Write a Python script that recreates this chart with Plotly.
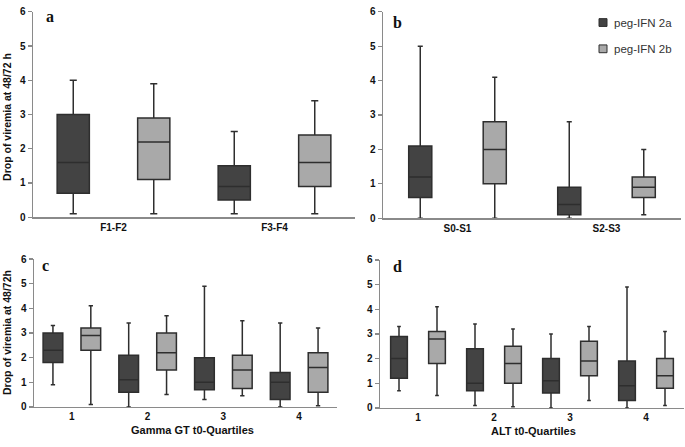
import plotly.graph_objects as go

W, H = 685, 447

# ---------------- data (five-number summaries) ----------------
series_names = ["peg-IFN 2a", "peg-IFN 2b"]

# panel a: fibrosis
a_cats = ["F1-F2", "F3-F4"]
a_2a_low = [0.1, 0.1]; a_2a_q1 = [0.7, 0.5]; a_2a_med = [1.6, 0.9]; a_2a_q3 = [3.0, 1.5]; a_2a_high = [4.0, 2.5]
a_2b_low = [0.1, 0.1]; a_2b_q1 = [1.1, 0.9]; a_2b_med = [2.2, 1.6]; a_2b_q3 = [2.9, 2.4]; a_2b_high = [3.9, 3.4]

# panel b: steatosis
b_cats = ["S0-S1", "S2-S3"]
b_2a_low = [0.0, 0.0]; b_2a_q1 = [0.6, 0.1]; b_2a_med = [1.2, 0.4]; b_2a_q3 = [2.1, 0.9]; b_2a_high = [5.0, 2.8]
b_2b_low = [0.0, 0.1]; b_2b_q1 = [1.0, 0.6]; b_2b_med = [2.0, 0.9]; b_2b_q3 = [2.8, 1.2]; b_2b_high = [4.1, 2.0]

# panel c: Gamma GT quartiles
c_cats = ["1", "2", "3", "4"]
c_2a_low = [0.9, 0.0, 0.3, 0.0]; c_2a_q1 = [1.8, 0.6, 0.7, 0.3]; c_2a_med = [2.3, 1.1, 1.0, 1.0]
c_2a_q3 = [3.0, 2.1, 2.0, 1.4]; c_2a_high = [3.3, 3.4, 4.9, 3.4]
c_2b_low = [0.1, 0.5, 0.45, 0.05]; c_2b_q1 = [2.3, 1.5, 0.75, 0.6]; c_2b_med = [2.9, 2.2, 1.5, 1.6]
c_2b_q3 = [3.2, 3.0, 2.1, 2.2]; c_2b_high = [4.1, 3.7, 3.5, 3.2]

# panel d: ALT quartiles
d_cats = ["1", "2", "3", "4"]
d_2a_low = [0.7, 0.1, 0.0, 0.0]; d_2a_q1 = [1.2, 0.7, 0.6, 0.3]; d_2a_med = [2.0, 1.0, 1.1, 0.9]
d_2a_q3 = [2.9, 2.4, 2.0, 1.9]; d_2a_high = [3.3, 3.4, 3.0, 4.9]
d_2b_low = [0.5, 0.05, 0.3, 0.1]; d_2b_q1 = [1.8, 1.0, 1.3, 0.8]; d_2b_med = [2.8, 1.8, 1.9, 1.3]
d_2b_q3 = [3.1, 2.5, 2.7, 2.0]; d_2b_high = [4.1, 3.2, 3.3, 3.1]

y_ticks = [0, 1, 2, 3, 4, 5, 6]

# ---------------- styling ----------------
fills = ["#434343", "#a9a9a9"]
edge = "#2e2e2e"
axis_col = "#8a8a8a"
TICK_FONT = dict(family="Liberation Sans, Arial", size=10, color="#111", weight="bold")
GROUP_OFFSET = [-0.25, 0.25]   # position of each series within a category slot


def px_x(p):
    return p / W


def px_y(p):
    return 1 - p / H


fig = go.Figure()

panels = [
    ("x", "y", a_cats, [(a_2a_low, a_2a_q1, a_2a_med, a_2a_q3, a_2a_high),
                       (a_2b_low, a_2b_q1, a_2b_med, a_2b_q3, a_2b_high)], 0.2),
    ("x2", "y2", b_cats, [(b_2a_low, b_2a_q1, b_2a_med, b_2a_q3, b_2a_high),
                         (b_2b_low, b_2b_q1, b_2b_med, b_2b_q3, b_2b_high)], 0.155),
    ("x3", "y3", c_cats, [(c_2a_low, c_2a_q1, c_2a_med, c_2a_q3, c_2a_high),
                         (c_2b_low, c_2b_q1, c_2b_med, c_2b_q3, c_2b_high)], 0.26),
    ("x4", "y4", d_cats, [(d_2a_low, d_2a_q1, d_2a_med, d_2a_q3, d_2a_high),
                         (d_2b_low, d_2b_q1, d_2b_med, d_2b_q3, d_2b_high)], 0.22),
]

for xa, ya, cats, stats, bw in panels:
    for k, (lo, q1, med, q3, hi) in enumerate(stats):
        pos = [i + GROUP_OFFSET[k] for i in range(len(cats))]
        fig.add_trace(go.Box(
            x=pos, lowerfence=lo, q1=q1, median=med, q3=q3, upperfence=hi,
            name=series_names[k], showlegend=False,
            fillcolor=fills[k], line=dict(color=edge, width=1.5),
            whiskerwidth=0.22, width=bw,
            xaxis=xa, yaxis=ya, hoverinfo="skip",
        ))

layout = dict(
    width=W, height=H, margin=dict(l=0, r=0, t=0, b=0),
    paper_bgcolor="white", plot_bgcolor="white",
    boxmode="overlay", showlegend=False,
)

x_domains = {"x": (33, 355), "x2": (383, 681), "x3": (34, 337), "x4": (380, 684)}
y_domains = {"y": (6, 217), "y2": (6, 218), "y3": (260, 412), "y4": (261, 413)}

for i, key in enumerate(["x", "x2", "x3", "x4"]):
    name = "xaxis" if key == "x" else "xaxis" + key[1:]
    ykey = "y" if i == 0 else "y" + str(i + 1)
    x0, x1 = x_domains[key]
    cats = panels[i][2]
    layout[name] = dict(
        domain=[px_x(x0), px_x(x1)], anchor=ykey,
        range=[-0.5, len(cats) - 0.5],
        tickvals=list(range(len(cats))), ticktext=cats,
        showline=True, linecolor=axis_col, linewidth=1.5, ticks="",
        showgrid=False, zeroline=False, tickfont=TICK_FONT, fixedrange=True,
    )
for i, key in enumerate(["y", "y2", "y3", "y4"]):
    name = "yaxis" if key == "y" else "yaxis" + key[1:]
    xkey = "x" if i == 0 else "x" + str(i + 1)
    y0, y1 = y_domains[key]
    layout[name] = dict(
        domain=[px_y(y1), px_y(y0)], anchor=xkey, range=[0, 6],
        tickvals=y_ticks, ticktext=[str(v) for v in y_ticks],
        showline=True, linecolor=axis_col, linewidth=1.5,
        ticks="outside", ticklen=4, tickcolor=axis_col, tickwidth=1.2,
        showgrid=False, zeroline=False, tickfont=TICK_FONT, fixedrange=True,
    )

title_font = dict(family="Liberation Sans, Arial", size=10.5, color="#111", weight="bold")
letter_font = dict(family="Liberation Serif, Times New Roman", size=16, color="#111", weight="bold")
legend_font = dict(family="Liberation Sans Narrow, Liberation Sans", size=11.5, color="#333")
annotations = [
    dict(text="Drop of viremia at 48/72 h", x=px_x(7), y=px_y(114), textangle=-90, font=title_font),
    dict(text="Drop of viremia at 48/72h", x=px_x(7), y=px_y(336), textangle=-90, font=title_font),
    dict(text="Gamma GT t0-Quartiles", x=px_x(192), y=px_y(436), font=dict(title_font, size=11)),
    dict(text="ALT t0-Quartiles", x=px_x(533), y=px_y(437), font=dict(title_font, size=11)),
    dict(text="a", x=px_x(50), y=px_y(11), font=letter_font),
    dict(text="b", x=px_x(397), y=px_y(17), font=letter_font),
    dict(text="c", x=px_x(45), y=px_y(267), font=letter_font),
    dict(text="d", x=px_x(397), y=px_y(268), font=letter_font),
]
for a in annotations:
    a.update(xanchor="center")

# custom legend (swatch + label), matching the reference placement
legend_rows_y = [17, 44]
shapes = []
for k, name in enumerate(series_names):
    yc = legend_rows_y[k]
    shapes.append(dict(type="rect", xref="paper", yref="paper",
                       x0=px_x(599), x1=px_x(607), y0=px_y(yc + 4), y1=px_y(yc - 4),
                       fillcolor=fills[k], line=dict(color=edge, width=1)))
    annotations.append(dict(text=name, x=px_x(612), y=px_y(yc), xanchor="left", font=legend_font))

for a in annotations:
    a.update(xref="paper", yref="paper", showarrow=False, yanchor="middle")
    a.setdefault("xanchor", "center")
layout["annotations"] = annotations
layout["shapes"] = shapes

fig.update_layout(**layout)
fig.write_html("out.html",
               config={"displayModeBar": False, "staticPlot": True},
               post_script="document.body.style.margin='0';document.body.style.padding='0';")
